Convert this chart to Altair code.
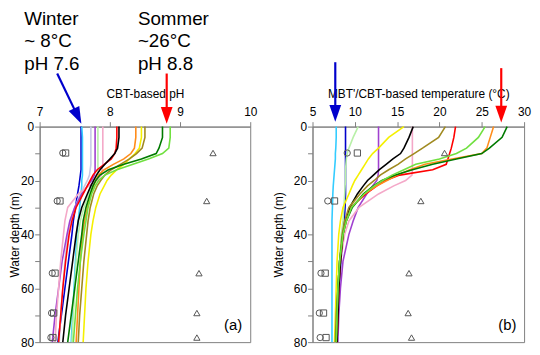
import altair as alt
import pandas as pd

FONT = "Liberation Sans"

# ---------------- data ----------------
DEPTH = [0, 4, 8, 10, 12, 14, 16, 18, 20, 22, 25, 30, 35, 40, 50, 60, 70, 80]

PH_SERIES = ["blue", "cyan", "lavender", "purple", "palegreen", "pink", "red",
             "black", "orange", "yellow", "olive", "darkgreen", "green"]
PH_BLUE      = [7.59, 7.59, 7.59, 7.59, 7.59, 7.59, 7.59, 7.58, 7.57, 7.56, 7.54, 7.51, 7.48, 7.46, 7.41, 7.36, 7.31, 7.26]
PH_CYAN      = [7.60, 7.61, 7.61, 7.61, 7.61, 7.61, 7.61, 7.61, 7.60, 7.60, 7.59, 7.57, 7.55, 7.53, 7.51, 7.49, 7.47, 7.45]
PH_LAVENDER  = [7.73, 7.73, 7.73, 7.73, 7.73, 7.73, 7.72, 7.71, 7.68, 7.64, 7.58, 7.50, 7.44, 7.40, 7.36, 7.33, 7.30, 7.28]
PH_PURPLE    = [7.79, 7.79, 7.79, 7.79, 7.79, 7.79, 7.79, 7.78, 7.74, 7.68, 7.60, 7.50, 7.43, 7.39, 7.32, 7.27, 7.22, 7.18]
PH_PALEGREEN = [7.83, 7.83, 7.83, 7.83, 7.83, 7.83, 7.83, 7.82, 7.79, 7.75, 7.70, 7.63, 7.58, 7.55, 7.52, 7.50, 7.48, 7.46]
PH_PINK      = [7.90, 7.90, 7.90, 7.90, 7.90, 7.90, 7.89, 7.88, 7.82, 7.70, 7.55, 7.40, 7.36, 7.34, 7.30, 7.27, 7.24, 7.22]
PH_RED       = [8.10, 8.10, 8.09, 8.07, 8.02, 7.92, 7.82, 7.76, 7.72, 7.68, 7.62, 7.52, 7.46, 7.42, 7.37, 7.33, 7.30, 7.27]
PH_BLACK     = [8.13, 8.13, 8.11, 8.07, 8.00, 7.93, 7.86, 7.81, 7.77, 7.73, 7.68, 7.60, 7.55, 7.52, 7.47, 7.42, 7.37, 7.33]
PH_ORANGE    = [8.37, 8.37, 8.35, 8.30, 8.20, 8.05, 7.92, 7.84, 7.80, 7.77, 7.73, 7.68, 7.64, 7.61, 7.58, 7.56, 7.54, 7.52]
PH_YELLOW    = [8.45, 8.45, 8.42, 8.36, 8.28, 8.20, 8.10, 8.02, 7.96, 7.92, 7.86, 7.80, 7.76, 7.73, 7.69, 7.66, 7.64, 7.62]
PH_OLIVE     = [8.50, 8.50, 8.46, 8.38, 8.28, 8.15, 8.02, 7.93, 7.87, 7.82, 7.77, 7.72, 7.69, 7.67, 7.63, 7.60, 7.57, 7.55]
PH_DARKGREEN = [8.75, 8.75, 8.70, 8.66, 8.45, 8.20, 7.98, 7.86, 7.80, 7.76, 7.72, 7.66, 7.62, 7.60, 7.55, 7.50, 7.45, 7.40]
PH_GREEN     = [8.86, 8.86, 8.84, 8.75, 8.55, 8.33, 8.10, 7.93, 7.84, 7.79, 7.74, 7.69, 7.66, 7.63, 7.58, 7.54, 7.51, 7.48]

T_SERIES = ["blue", "cyan", "purple", "palegreen", "pink", "red",
            "black", "orange", "yellow", "olive", "darkgreen", "green"]
T_BLUE      = [8.9, 8.9, 8.9, 8.9, 8.9, 8.9, 8.9, 8.9, 8.9, 8.9, 8.9, 8.85, 8.75, 8.6, 8.35, 8.15, 7.95, 7.8]
T_CYAN      = [7.8, 7.8, 7.75, 7.7, 7.7, 7.65, 7.6, 7.55, 7.5, 7.45, 7.4, 7.35, 7.3, 7.3, 7.3, 7.3, 7.3, 7.3]
T_PURPLE    = [12.8, 12.8, 12.8, 12.8, 12.8, 12.8, 12.8, 12.75, 12.6, 12.1, 11.4, 10.4, 9.8, 9.3, 8.6, 8.3, 8.1, 8.0]
T_PALEGREEN = [10.4, 9.8, 9.3, 9.1, 9.0, 8.95, 8.9, 8.9, 8.9, 8.85, 8.8, 8.7, 8.6, 8.4, 8.2, 8.0, 7.8, 7.7]
T_PINK      = [16.8, 16.8, 16.8, 16.8, 16.8, 16.8, 16.8, 16.75, 16.0, 14.6, 12.8, 10.5, 9.3, 8.8, 8.3, 8.1, 7.9, 7.8]
T_RED       = [21.9, 21.7, 21.4, 21.2, 21.0, 20.8, 19.2, 15.3, 13.6, 12.6, 11.3, 9.5, 8.9, 8.6, 8.3, 8.1, 8.0, 7.9]
T_BLACK     = [16.9, 16.4, 15.8, 15.4, 14.5, 13.7, 12.9, 12.2, 11.5, 11.0, 10.3, 9.4, 8.9, 8.6, 8.3, 8.1, 8.0, 7.9]
T_ORANGE    = [26.4, 26.0, 25.6, 25.0, 21.5, 18.3, 16.5, 15.0, 13.8, 12.6, 11.1, 9.6, 9.0, 8.6, 8.2, 8.0, 7.9, 7.8]
T_YELLOW    = [15.8, 14.0, 12.8, 12.1, 11.6, 11.2, 10.8, 10.4, 10.0, 9.7, 9.3, 8.6, 8.3, 8.1, 7.9, 7.8, 7.7, 7.6]
T_OLIVE     = [20.7, 19.9, 18.0, 17.0, 16.0, 15.1, 14.0, 13.0, 12.3, 11.5, 10.6, 9.3, 8.8, 8.5, 8.2, 8.0, 7.8, 7.7]
T_DARKGREEN = [28.0, 27.4, 25.9, 25.0, 22.0, 19.2, 16.8, 14.8, 13.2, 12.2, 11.0, 9.7, 9.0, 8.6, 8.2, 8.0, 7.9, 7.8]
T_GREEN     = [25.4, 24.6, 23.2, 22.0, 20.0, 17.2, 15.8, 14.4, 13.3, 12.3, 11.1, 9.6, 9.0, 8.6, 8.2, 8.0, 7.9, 7.8]

COLOR_DOMAIN = ["blue", "cyan", "lavender", "purple", "palegreen", "pink", "red",
                "black", "orange", "yellow", "olive", "darkgreen", "green"]
COLOR_RANGE = ["#0000CC", "#33CCFF", "#C8C8E8", "#A040D0", "#B8F0A8", "#F4A8C8", "#FF0000",
               "#000000", "#FF8C1A", "#F5F000", "#A08A20", "#007A00", "#70E040"]

# sample markers
MARK_DEPTH = [9.8, 27.6, 54.4, 69.2, 78.3]
PH_CIRCLE = [7.33, 7.25, 7.18, 7.17, 7.16]
PH_SQUARE = [7.37, 7.29, 7.22, 7.20, 7.19]
PH_TRIANGLE = [9.47, 9.38, 9.27, 9.24, 9.24]
T_CIRCLE = [9.1, 6.8, 6.0, 5.8, 5.9]
T_SQUARE = [10.3, 7.6, 6.5, 6.3, 6.6]
T_TRIANGLE = [20.6, 17.8, 16.4, 16.3, 16.7]

# annotations (left panel, data coords)
ANNOT_TEXT = ["Winter", "~ 8°C", "pH 7.6", "Sommer", "~26°C", "pH 8.8"]
ANNOT_PH = [6.78, 6.78, 6.78, 8.40, 8.40, 8.40]
ANNOT_DEPTH = [-37.6, -29.4, -21.1, -37.6, -29.4, -21.1]

# arrows: start (x1, y1) -> head centre (x2, y2)
ARROW_PH_X1 = [7.25, 8.81]
ARROW_PH_Y1 = [-19.7, -19.7]
ARROW_PH_X2 = [7.542, 8.81]
ARROW_PH_Y2 = [-3.9, -4.2]
ARROW_PH_ANGLE = [334, 0]
ARROW_T_X1 = [7.69, 27.3]
ARROW_T_Y1 = [-23.9, -21.7]
ARROW_T_X2 = [7.69, 27.3]
ARROW_T_Y2 = [-4.9, -4.6]
ARROW_T_ANGLE = [0, 0]
ARROW_COLOR = ["blue", "red"]

PANEL_LABEL = ["(a)", "(b)"]
PANEL_X = [9.885, 29.1]
PANEL_DEPTH = [75.6, 75.6]

# ---------------- helpers ----------------
def long_table(series, profiles):
    rows = []
    for name, vals in zip(series, profiles):
        for d, v in zip(DEPTH, vals):
            rows.append({"series": name, "depth": d, "value": v})
    return pd.DataFrame(rows)


df_ph = long_table(PH_SERIES, [PH_BLUE, PH_CYAN, PH_LAVENDER, PH_PURPLE, PH_PALEGREEN, PH_PINK,
                               PH_RED, PH_BLACK, PH_ORANGE, PH_YELLOW, PH_OLIVE, PH_DARKGREEN, PH_GREEN])
df_t = long_table(T_SERIES, [T_BLUE, T_CYAN, T_PURPLE, T_PALEGREEN, T_PINK, T_RED,
                             T_BLACK, T_ORANGE, T_YELLOW, T_OLIVE, T_DARKGREEN, T_GREEN])


def markers_table(c, s, t):
    rows = []
    for kind, vals in (("circle", c), ("square", s), ("triangle", t)):
        for d, v in zip(MARK_DEPTH, vals):
            rows.append({"kind": kind, "depth": d, "value": v})
    return pd.DataFrame(rows)


ysc = alt.Scale(domain=[0, 80], reverse=True, nice=False, zero=False)
color_scale = alt.Scale(domain=COLOR_DOMAIN, range=COLOR_RANGE)
arrow_scale = alt.Scale(domain=["blue", "red"], range=["#0000E0", "#EE0000"])
shape_scale = alt.Scale(domain=["circle", "square", "triangle"],
                        range=["circle", "square", "triangle-up"])


def panel(df_lines, df_marks, xdom, xvals, xtitle, xlabel_expr, ytitle_pad,
          arrows, annots, label_idx, width):
    xsc = alt.Scale(domain=xdom, nice=False, zero=False)
    xax = alt.Axis(orient="top", values=xvals, title=xtitle, labelExpr=xlabel_expr,
                   format="d", labelOverlap=False, labelFlush=False, labelPadding=3,
                   titlePadding=5, tickSize=5)
    yax = alt.Axis(values=list(range(0, 81, 10)), title="Water depth (m)",
                   labelExpr="datum.value % 20 == 0 ? datum.label : ''",
                   labelOverlap=False, labelFlush=False, labelPadding=1,
                   titlePadding=ytitle_pad, tickSize=5)
    X = alt.X("value:Q", scale=xsc, axis=xax)
    Y = alt.Y("depth:Q", scale=ysc, axis=yax)

    lines = alt.Chart(df_lines).mark_line(strokeWidth=1.6).encode(
        x=X, y=Y,
        color=alt.Color("series:N", scale=color_scale, legend=None),
        detail="series:N",
        order="depth:Q",
    )
    marks = alt.Chart(df_marks).mark_point(filled=False, size=40, strokeWidth=1,
                                           color="#555555", opacity=1).encode(
        x=X, y=Y,
        shape=alt.Shape("kind:N", scale=shape_scale, legend=None),
    )
    ax1, ay1, ax2, ay2, aang = arrows
    df_arrow = pd.DataFrame({"value": ax1, "depth": ay1, "value2": ax2, "depth2": ay2,
                             "angle": aang, "col": ARROW_COLOR})
    shafts = alt.Chart(df_arrow).mark_rule(strokeWidth=2.2).encode(
        x=X, y=Y, x2="value2:Q", y2="depth2:Q",
        color=alt.Color("col:N", scale=arrow_scale, legend=None),
    )
    heads = alt.Chart(df_arrow).mark_point(filled=True, opacity=1, size=289,
                                           shape="M-0.7,-1L0.7,-1L0,1Z").encode(
        x=alt.X("value2:Q", scale=xsc, axis=xax),
        y=alt.Y("depth2:Q", scale=ysc, axis=yax),
        angle=alt.Angle("angle:Q", scale=None),
        color=alt.Color("col:N", scale=arrow_scale, legend=None),
    )
    df_lab = pd.DataFrame({"value": [PANEL_X[label_idx]], "depth": [PANEL_DEPTH[label_idx]],
                           "t": [PANEL_LABEL[label_idx]]})
    lab = alt.Chart(df_lab).mark_text(align="right", baseline="alphabetic", fontSize=15,
                                      font=FONT, color="black").encode(x=X, y=Y, text="t:N")
    layers = [lines, marks, shafts, heads, lab]
    if annots is not None:
        df_ann = pd.DataFrame({"value": annots[0], "depth": annots[1], "t": annots[2]})
        ann = alt.Chart(df_ann).mark_text(align="left", baseline="alphabetic", fontSize=19,
                                          font=FONT, color="black").encode(x=X, y=Y, text="t:N")
        layers.append(ann)
    return alt.layer(*layers).properties(width=width, height=218)


left = panel(df_ph, markers_table(PH_CIRCLE, PH_SQUARE, PH_TRIANGLE), [7, 10],
             [7, 7.5, 8, 8.5, 9, 9.5, 10], "CBT-based pH",
             "datum.value % 1 == 0 ? datum.label : ''", -1,
             (ARROW_PH_X1, ARROW_PH_Y1, ARROW_PH_X2, ARROW_PH_Y2, ARROW_PH_ANGLE),
             (ANNOT_PH, ANNOT_DEPTH, ANNOT_TEXT), 0, 213)

right = panel(df_t, markers_table(T_CIRCLE, T_SQUARE, T_TRIANGLE), [5, 30],
              [5, 10, 15, 20, 25, 30], "MBT'/CBT-based temperature (°C)",
              "datum.label", 8,
              (ARROW_T_X1, ARROW_T_Y1, ARROW_T_X2, ARROW_T_Y2, ARROW_T_ANGLE),
              None, 1, 214)

chart = alt.hconcat(left, right, spacing=14).properties(padding=0).configure_view(
    stroke="#808080", strokeWidth=1
).configure_axis(
    domainColor="#808080", tickColor="#808080", labelColor="black", titleColor="black",
    labelFont=FONT, titleFont=FONT, labelFontSize=12, titleFontSize=12,
    titleFontWeight="normal", grid=False,
)

chart.save("out.html", embed_options={"renderer": "svg", "actions": False})
